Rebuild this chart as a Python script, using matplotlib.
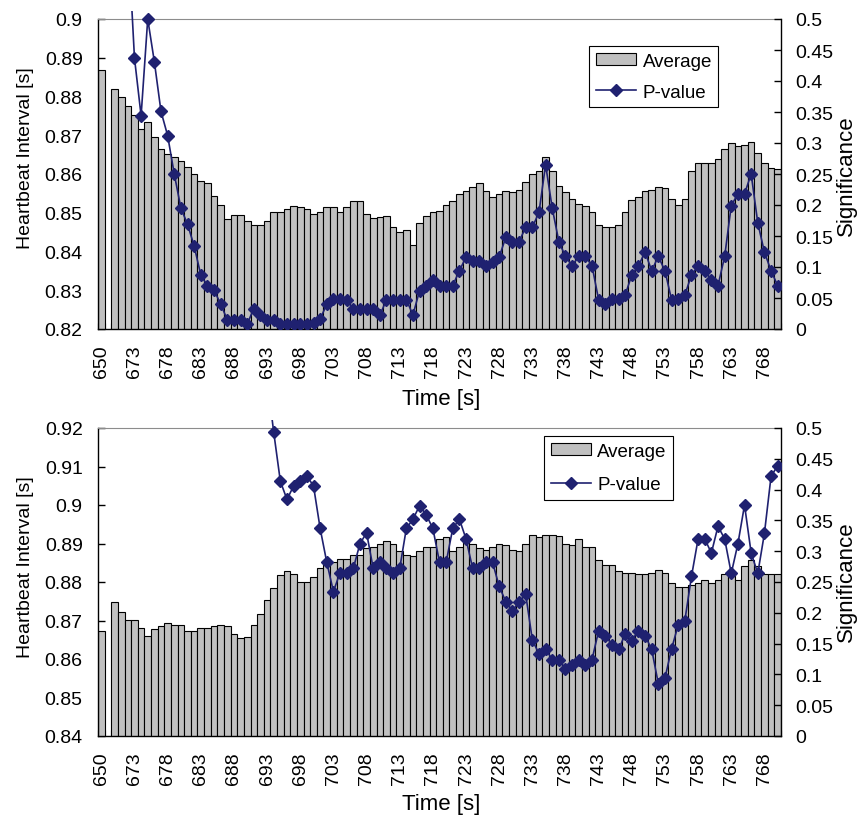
import numpy as np
import matplotlib
matplotlib.use("Agg")
import matplotlib.pyplot as plt
from matplotlib.transforms import Bbox, TransformedBbox
from matplotlib.patches import Patch
from matplotlib.lines import Line2D
from matplotlib.ticker import FuncFormatter

plt.rcParams['font.family'] = ['Liberation Sans', 'DejaVu Sans']

nan = np.nan

# time categories (s); the first sample is followed by an empty slot
times = [650] + list(range(669, 771))

top_avg = [
    0.8868, nan, 0.8819, 0.8800, 0.8775, 0.8751, 0.8715, 0.8733, 0.8695, 0.8664,
    0.8651, 0.8643, 0.8634, 0.8619, 0.8599, 0.8583, 0.8576, 0.8544, 0.8521, 0.8485,
    0.8495, 0.8495, 0.8480, 0.8469, 0.8469, 0.8478, 0.8501, 0.8501, 0.8509, 0.8517,
    0.8514, 0.8509, 0.8496, 0.8501, 0.8514, 0.8514, 0.8501, 0.8514, 0.8530, 0.8530,
    0.8496, 0.8486, 0.8488, 0.8492, 0.8464, 0.8450, 0.8455, 0.8418, 0.8473, 0.8492,
    0.8501, 0.8504, 0.8521, 0.8530, 0.8548, 0.8555, 0.8567, 0.8576, 0.8555, 0.8540,
    0.8548, 0.8555, 0.8553, 0.8560, 0.8580, 0.8599, 0.8607, 0.8643, 0.8607, 0.8570,
    0.8553, 0.8536, 0.8523, 0.8517, 0.8501, 0.8469, 0.8462, 0.8464, 0.8469, 0.8501,
    0.8532, 0.8540, 0.8555, 0.8560, 0.8567, 0.8563, 0.8536, 0.8521, 0.8536, 0.8607,
    0.8628, 0.8629, 0.8629, 0.8638, 0.8664, 0.8679, 0.8671, 0.8675, 0.8682, 0.8655,
    0.8628, 0.8615, 0.8613,
]

top_p = [
    nan, nan, nan, nan, 0.64, 0.437, 0.344, 0.500, 0.431, 0.351,
    0.312, 0.250, 0.195, 0.169, 0.134, 0.087, 0.070, 0.063, 0.040, 0.015,
    0.015, 0.015, 0.008, 0.033, 0.023, 0.015, 0.015, 0.008, 0.008, 0.008,
    0.008, 0.008, 0.010, 0.016, 0.040, 0.048, 0.048, 0.047, 0.032, 0.032,
    0.032, 0.032, 0.022, 0.047, 0.047, 0.047, 0.047, 0.023, 0.062, 0.070,
    0.079, 0.070, 0.070, 0.070, 0.094, 0.116, 0.109, 0.110, 0.102, 0.108,
    0.116, 0.148, 0.141, 0.141, 0.164, 0.164, 0.188, 0.265, 0.195, 0.141,
    0.117, 0.102, 0.117, 0.117, 0.102, 0.047, 0.040, 0.048, 0.048, 0.055,
    0.087, 0.102, 0.124, 0.094, 0.117, 0.094, 0.047, 0.048, 0.055, 0.087,
    0.102, 0.094, 0.079, 0.070, 0.117, 0.199, 0.218, 0.218, 0.250, 0.171,
    0.124, 0.094, 0.070,
]

bottom_avg = [
    0.8674, nan, 0.8749, 0.8722, 0.8701, 0.8701, 0.8681, 0.8661, 0.8678, 0.8685,
    0.8693, 0.8689, 0.8689, 0.8673, 0.8673, 0.8681, 0.8681, 0.8685, 0.8689, 0.8685,
    0.8665, 0.8655, 0.8658, 0.8689, 0.8717, 0.8753, 0.8784, 0.8817, 0.8828, 0.8821,
    0.8800, 0.8800, 0.8812, 0.8836, 0.8858, 0.8851, 0.8860, 0.8860, 0.8871, 0.8869,
    0.8888, 0.8892, 0.8899, 0.8907, 0.8899, 0.8880, 0.8871, 0.8868, 0.8880, 0.8892,
    0.8892, 0.8912, 0.8916, 0.8880, 0.8892, 0.8907, 0.8899, 0.8888, 0.8883, 0.8892,
    0.8899, 0.8895, 0.8883, 0.8880, 0.8899, 0.8923, 0.8916, 0.8923, 0.8923, 0.8920,
    0.8899, 0.8896, 0.8912, 0.8892, 0.8892, 0.8856, 0.8845, 0.8845, 0.8828, 0.8823,
    0.8824, 0.8820, 0.8820, 0.8823, 0.8830, 0.8824, 0.8798, 0.8788, 0.8788, 0.8793,
    0.8798, 0.8804, 0.8798, 0.8804, 0.8821, 0.8821, 0.8804, 0.8842, 0.8856, 0.8842,
    0.8821, 0.8821, 0.8821,
]

bottom_p = [
    nan, nan, nan, nan, nan, nan, nan, nan, nan, nan,
    nan, nan, nan, nan, nan, nan, nan, nan, nan, nan,
    nan, nan, nan, nan, nan, 0.58, 0.493, 0.4135, 0.384, 0.406,
    0.414, 0.422, 0.406, 0.337, 0.282, 0.2345, 0.265, 0.264, 0.272, 0.312,
    0.330, 0.272, 0.282, 0.272, 0.265, 0.272, 0.337, 0.352, 0.374, 0.359,
    0.337, 0.282, 0.282, 0.337, 0.352, 0.320, 0.272, 0.272, 0.282, 0.282,
    0.243, 0.218, 0.203, 0.218, 0.230, 0.156, 0.1335, 0.1415, 0.124, 0.124,
    0.109, 0.116, 0.124, 0.116, 0.124, 0.171, 0.163, 0.1485, 0.1405, 0.165,
    0.155, 0.171, 0.163, 0.1405, 0.085, 0.094, 0.1415, 0.1805, 0.1875, 0.259,
    0.320, 0.320, 0.297, 0.3405, 0.320, 0.264, 0.312, 0.375, 0.297, 0.264,
    0.329, 0.4215, 0.439,
]

BAR_COLOR = '#c0c0c0'
LINE_COLOR = '#1f2170'
TICK_SIZE = 14

W, H = 865, 820
fig = plt.figure(figsize=(W / 100, H / 100), dpi=100)

fmt = FuncFormatter(lambda v, _: f"{round(v, 4):g}")


def px_rect(left, top, right, bottom):
    return [left / W, 1 - bottom / H, (right - left) / W, (bottom - top) / H]


def panel(rect_px, avg, pval, ylo, yhi, leg_anchor, leg_spacing):
    ax = fig.add_axes(px_rect(*rect_px))
    x = np.arange(len(times))
    ax.bar(x, avg, width=1.0, color=BAR_COLOR, edgecolor='black',
           linewidth=0.8, zorder=2)
    ax.set_xlim(-0.5, len(times) - 0.5)
    ax.set_ylim(ylo, yhi)
    ax.set_yticks(np.round(np.arange(ylo, yhi + 1e-9, 0.01), 3))
    ax.yaxis.set_major_formatter(fmt)
    ax.tick_params(axis='y', direction='in', length=5, width=1,
                   labelsize=TICK_SIZE, pad=11)

    major = list(range(0, len(times), 5))
    ax.set_xticks(major)
    ax.set_xticklabels([str(times[i]) for i in major], rotation=90)
    ax.set_xticks(np.arange(-0.5, len(times), 1.0), minor=True)
    ax.tick_params(axis='x', which='major', length=0, labelsize=TICK_SIZE, pad=11)
    ax.tick_params(axis='x', which='minor', direction='in', length=4, width=0.8)

    ax.spines['top'].set_color('#8c8c8c')
    ax.spines['right'].set_visible(False)
    for s in ('left', 'bottom'):
        ax.spines[s].set_linewidth(1.0)

    ax2 = ax.twinx()
    ax2.set_ylim(0, 0.5)
    ax2.set_yticks(np.round(np.arange(0, 0.5001, 0.05), 2))
    ax2.yaxis.set_major_formatter(fmt)
    ax2.tick_params(axis='y', direction='in', length=5, width=1,
                    labelsize=TICK_SIZE, pad=10)
    for s in ('top', 'left', 'bottom'):
        ax2.spines[s].set_visible(False)
    ax2.spines['right'].set_linewidth(1.0)

    line, = ax2.plot(x, pval, color=LINE_COLOR, marker='D', markersize=6,
                     linewidth=1.2, zorder=3)
    h_px = rect_px[3] - rect_px[1]
    clip = TransformedBbox(Bbox([[0, 0], [1, 1 + 8 / h_px]]), ax2.transAxes)
    line.set_clip_box(clip)

    handles = [
        Patch(facecolor=BAR_COLOR, edgecolor='black', linewidth=0.8, label='Average'),
        Line2D([], [], color=LINE_COLOR, marker='D', markersize=6,
               linewidth=1.2, label='P-value'),
    ]
    leg = ax2.legend(handles=handles, loc='upper left', bbox_to_anchor=leg_anchor,
                     fancybox=False, edgecolor='black', framealpha=1,
                     fontsize=13.5, borderpad=0.35, handlelength=2.15,
                     handleheight=0.6, handletextpad=0.35,
                     labelspacing=leg_spacing, borderaxespad=0)
    leg.get_frame().set_linewidth(0.8)
    return ax, ax2


panel((98, 20, 781, 330), top_avg, top_p, 0.82, 0.90, (0.719, 0.913), 0.75)
panel((98, 429, 781, 737), bottom_avg, bottom_p, 0.84, 0.92, (0.653, 0.974), 0.9)

# axis titles
fig.text(26 / W, 1 - 158 / H, 'Heartbeat Interval [s]', rotation=90,
         ha='center', va='center', fontsize=14)
fig.text(26 / W, 1 - 567 / H, 'Heartbeat Interval [s]', rotation=90,
         ha='center', va='center', fontsize=14)
fig.text(846 / W, 1 - 176 / H, 'Significance', rotation=90,
         ha='center', va='center', fontsize=16)
fig.text(846 / W, 1 - 582 / H, 'Significance', rotation=90,
         ha='center', va='center', fontsize=16)
fig.text(441 / W, 1 - 400 / H, 'Time [s]', ha='center', va='center', fontsize=16)
fig.text(441 / W, 1 - 805 / H, 'Time [s]', ha='center', va='center', fontsize=16)

fig.savefig('out.png', dpi=100)
